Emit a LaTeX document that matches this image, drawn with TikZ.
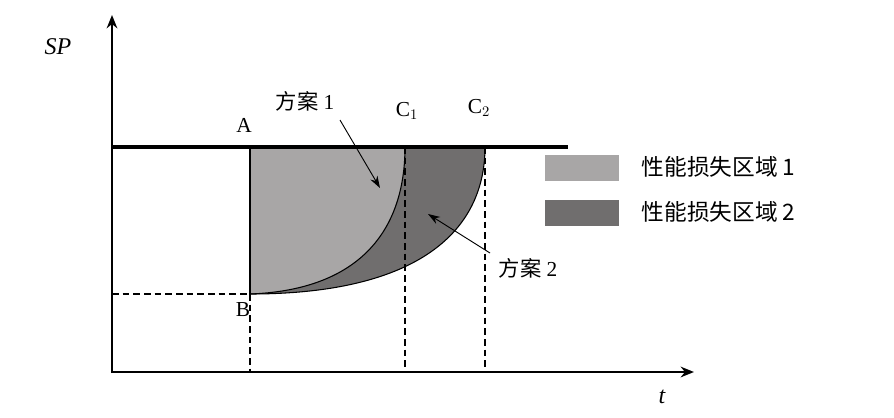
\documentclass[tikz,border=0pt]{standalone}
\usepackage{fontspec}
\setmainfont{Liberation Serif}
\newfontfamily\cjk{Noto Sans CJK SC}
\usetikzlibrary{arrows.meta}
\definecolor{lg}{HTML}{A8A6A6}
\definecolor{dg}{HTML}{706E6E}
\begin{document}
\begin{tikzpicture}[x=0.75pt,y=-0.75pt,
  dashln/.style={line width=1.5pt,dash pattern=on 5pt off 3pt},
  lbl/.style={font=\fontsize{16}{19}\selectfont},
  ptr/.style={-{Stealth[length=9pt,width=6pt]},line width=0.7pt}]
\useasboundingbox (0,0) rectangle (894,418);
\coordinate (A) at (250,147);
\coordinate (B) at (250,294);
\coordinate (C1) at (405,147);
\coordinate (C2) at (485,147);
% regions
\fill[dg] (B) .. controls (420,294) and (485,230) .. (C2) -- (C1) .. controls (405,230) and (360,290) .. (B);
\fill[lg] (A) -- (B) .. controls (360,290) and (405,230) .. (C1) -- cycle;
\draw[line width=0.8pt] (B) .. controls (360,290) and (405,230) .. (C1);
\draw[line width=0.8pt] (B) .. controls (420,294) and (485,230) .. (C2);
\draw[line width=0.8pt] (A) -- (B);
% dashed
\draw[dashln] (112,294) -- (B);
\draw[dashln] (B) -- (250,372);
\draw[dashln] (C1) -- (405,372);
\draw[dashln] (C2) -- (485,372);
% axes
\draw[line width=1.6pt,-{Stealth[length=10pt,width=8pt]}] (112,373) -- (112,15);
\draw[line width=1.6pt,-{Stealth[length=10pt,width=8pt]}] (111,372) -- (694,372);
\draw[line width=2.3pt] (112,147) -- (568,147);
% labels
\node[font=\fontsize{18}{21}\selectfont\itshape] (sp) at (58,47) {SP};
\node[font=\fontsize{18}{21}\selectfont\itshape] (t) at (662,397) {t};
\node[lbl] (la) at (244,125) {A};
\node[lbl] (lb) at (243,310) {B};
\node[lbl] (lc1) at (407,111) {C$_1$};
\node[lbl] (lc2) at (479,108) {C$_2$};
\node[lbl] (p1) at (305,101) {{\cjk 方案} 1};
\node[lbl] (p2) at (528,268) {{\cjk 方案} 2};
\coordinate (p1e) at (380,188);
\coordinate (p2e) at (428,214);
\draw[ptr] (340,120) -- (p1e);
\draw[ptr] (490,253) -- (p2e);
% legend
\node[fill=lg,minimum width=56pt,minimum height=20pt,inner sep=0pt] (k1) at (582,168) {};
\node[fill=dg,minimum width=56pt,minimum height=20pt,inner sep=0pt] (k2) at (582,213) {};
\node[anchor=west,font=\fontsize{17}{20}\selectfont\cjk] (t1) at (637,167) {性能损失区域 1};
\node[anchor=west,font=\fontsize{17}{20}\selectfont\cjk] (t2) at (637,212) {性能损失区域 2};
\end{tikzpicture}
\end{document}
